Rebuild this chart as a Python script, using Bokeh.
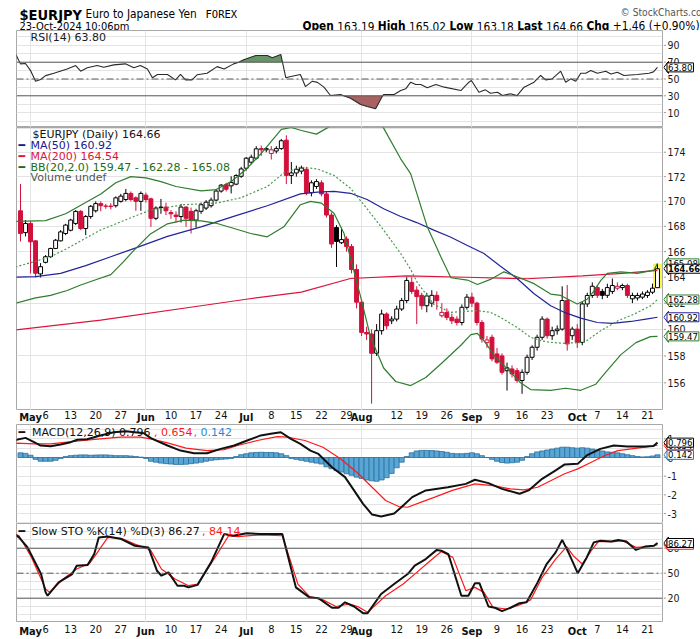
import numpy as np
from bokeh.plotting import figure
from bokeh.layouts import column, row
from bokeh.models import ColumnDataSource, Range1d, FixedTicker, Span, Label
from bokeh.embed import file_html
from bokeh.resources import INLINE
from bokeh.core.properties import value

# ---------------- data (trading-day index 0 = 29-Apr-2024 ... 127 = 23-Oct-2024) ----------------
week_ticks = [5, 10, 15, 20, 30, 35, 40, 50, 55, 60, 65, 75, 80, 85, 95, 100, 105, 115, 120, 125]
week_labels = ["6", "13", "20", "27", "10", "17", "24", "8", "15", "22", "29", "12", "19", "26",
               "9", "16", "23", "7", "14", "21"]
month_ticks = [2, 25, 45, 68, 90, 111]
month_labels = ["May", "Jun", "Jul", "Aug", "Sep", "Oct"]

open_ = [169.24, 167.50, 168.23, 166.85, 164.26, 165.16, 165.60, 166.25, 166.85, 167.43,
         167.69, 168.23, 169.19, 167.83, 168.78, 169.24, 169.82, 169.60, 169.62, 169.65,
         170.00, 170.15, 170.64, 170.28, 170.00, 170.50, 170.20, 168.64, 169.50, 169.54,
         169.10, 168.90, 168.78, 169.54, 169.20, 168.50, 169.20, 169.46, 169.65, 170.10,
         170.83, 171.35, 171.25, 171.39, 172.03, 172.69, 173.18, 173.51, 174.30, 174.20,
         173.90, 174.10, 174.30, 175.00, 172.10, 172.30, 172.45, 172.60, 170.70, 171.20,
         171.50, 170.60, 168.90, 167.90, 166.70, 167.00, 166.40, 164.60, 162.07, 159.77,
         159.65, 158.20, 159.90, 161.17, 160.65, 160.78, 161.55, 162.20, 163.60, 163.00,
         162.60, 161.80, 162.00, 162.60, 161.04, 161.29, 160.91, 160.78, 160.52, 161.68,
         162.46, 162.00, 160.52, 159.00, 159.40, 158.15, 158.00, 156.90, 157.03, 156.90,
         156.17, 156.78, 157.90, 158.65, 159.40, 160.78, 159.52, 159.90, 160.02, 162.20,
         159.52, 160.02, 159.02, 161.94, 162.59, 163.20, 162.90, 162.60, 162.90, 163.15,
         163.20, 163.36, 162.33, 162.40, 162.46, 162.59, 162.84, 163.19]
high = [171.40, 168.50, 168.40, 166.90, 165.10, 165.73, 166.30, 167.00, 167.70, 168.20,
        168.60, 169.30, 169.30, 168.90, 169.70, 170.00, 170.00, 169.80, 169.85, 170.40,
        170.60, 171.00, 170.80, 170.40, 170.80, 170.70, 170.30, 169.60, 170.20, 169.90,
        169.30, 169.20, 169.80, 169.60, 169.50, 169.40, 169.90, 170.10, 170.30, 171.00,
        171.40, 171.50, 172.03, 172.20, 172.80, 173.60, 173.80, 174.50, 174.55, 174.40,
        174.50, 174.50, 175.10, 175.40, 173.20, 172.90, 172.90, 172.80, 171.70, 171.80,
        171.70, 170.80, 169.10, 168.10, 167.90, 167.20, 166.60, 165.00, 162.30, 160.20,
        160.00, 160.40, 161.50, 161.30, 161.00, 161.80, 162.40, 164.00, 164.00, 163.30,
        162.80, 162.80, 163.00, 162.90, 162.00, 161.60, 161.20, 161.00, 161.90, 162.70,
        162.80, 162.10, 160.70, 159.50, 159.60, 158.60, 158.20, 157.50, 157.30, 157.10,
        157.00, 158.10, 158.80, 159.60, 161.00, 160.90, 160.20, 160.30, 163.30, 163.40,
        160.20, 160.40, 162.10, 162.80, 163.60, 163.40, 163.10, 163.50, 163.90, 163.60,
        163.50, 163.50, 162.80, 162.80, 162.90, 163.00, 163.50, 165.02]
low = [166.80, 167.20, 164.30, 163.98, 163.98, 165.08, 165.50, 166.20, 166.80, 167.30,
       167.60, 168.10, 167.70, 167.30, 168.60, 169.10, 169.20, 169.40, 169.35, 169.50,
       169.90, 170.00, 170.00, 169.24, 169.24, 169.90, 167.96, 168.50, 169.00, 168.90,
       168.60, 168.30, 168.30, 167.96, 167.43, 167.90, 169.00, 169.30, 169.50, 170.00,
       170.70, 170.80, 170.64, 171.30, 171.90, 172.50, 173.00, 173.40, 173.70, 174.00,
       173.40, 173.90, 174.20, 171.40, 171.40, 172.00, 172.20, 170.50, 170.40, 171.00,
       170.40, 168.70, 166.30, 164.80, 166.60, 166.00, 164.30, 161.60, 159.50, 159.20,
       154.47, 158.00, 159.60, 160.00, 160.40, 160.60, 161.40, 162.00, 162.70, 160.40,
       161.50, 161.30, 161.70, 161.50, 160.90, 160.70, 160.40, 160.30, 160.30, 161.50,
       161.70, 160.30, 159.00, 158.60, 157.60, 157.40, 156.60, 155.43, 156.40, 156.00,
       155.19, 156.60, 157.70, 158.40, 159.20, 159.30, 159.20, 159.60, 159.90, 158.40,
       159.20, 158.60, 158.80, 161.70, 162.40, 162.40, 162.30, 162.40, 162.70, 163.00,
       163.00, 162.40, 162.00, 162.20, 162.30, 162.40, 162.70, 163.18]
close_ = [167.43, 168.23, 166.77, 164.31, 164.82, 165.60, 166.25, 166.90, 167.56, 168.10,
          168.50, 169.19, 167.83, 168.78, 169.60, 169.82, 169.65, 169.62, 169.58, 170.28,
          170.42, 170.64, 170.15, 170.00, 170.64, 170.15, 168.64, 169.46, 169.54, 169.24,
          169.00, 168.78, 169.54, 168.64, 168.50, 169.24, 169.73, 169.93, 170.10, 170.83,
          171.31, 170.98, 171.53, 172.09, 172.63, 173.51, 173.59, 174.28, 174.20, 174.30,
          174.20, 174.30, 174.95, 172.10, 172.30, 172.60, 172.70, 170.70, 171.50, 171.60,
          170.60, 168.90, 166.60, 166.80, 166.95, 166.40, 164.60, 162.07, 159.77, 159.65,
          158.20, 159.90, 161.17, 160.27, 160.78, 161.55, 162.20, 163.75, 162.90, 162.50,
          161.80, 162.55, 162.60, 162.20, 161.29, 160.91, 160.65, 160.52, 161.68, 162.46,
          162.00, 160.52, 159.27, 159.20, 157.78, 157.53, 156.78, 157.11, 156.66, 156.17,
          156.78, 157.90, 158.65, 159.40, 160.78, 159.52, 159.90, 160.02, 162.20, 158.90,
          160.02, 159.02, 161.94, 162.59, 163.30, 162.60, 162.60, 163.20, 163.36, 163.30,
          163.36, 162.59, 162.59, 162.59, 162.70, 162.84, 163.15, 164.66]

ma50_x = [-1, 3, 8, 13, 18, 23, 29.3, 36, 42.5, 49.2, 55.8, 59.2, 62.5, 65.8, 69.1, 72.4, 75.7,
          79, 82.4, 85.7, 89, 92.4, 95.7, 99, 102.4, 105.7, 108.7, 111.7, 115, 118, 121.7, 125, 127]
ma50_y = [164.0, 164.05, 164.3, 164.9, 165.6, 166.3, 167.2, 167.96, 168.8, 169.65, 170.6, 170.75,
          170.8, 170.65, 170.15, 169.4, 168.8, 168.3, 167.7, 167.15, 166.5, 165.85, 164.85, 163.9,
          162.72, 161.8, 161.25, 160.85, 160.52, 160.45, 160.6, 160.8, 160.92]
ma200_x = [-1, 16, 36, 45, 56, 65.8, 77, 89, 101, 112, 120, 127]
ma200_y = [159.95, 160.7, 161.8, 162.3, 162.85, 163.9, 164.1, 164.0, 163.88, 164.1, 164.3, 164.54]
bb_up_x = [-1, 5, 9, 13, 16, 19, 22, 25, 28, 31, 36, 39, 42, 45, 48, 50, 52, 54, 56, 59, 61.5, 64,
           68, 71, 72.4, 75.8, 77.8, 81.1, 83.8, 85.8, 89.1, 91.1, 93.7, 96.4, 99, 102.4, 105.7,
           107.7, 111, 113, 114.4, 115.7, 117, 119.7, 123, 126.3, 127]
bb_up_y = [168.4, 168.45, 169.0, 169.9, 170.6, 171.5, 172.0, 171.9, 171.6, 171.2, 170.85, 170.95,
           171.6, 172.6, 173.9, 174.9, 175.9, 176.05, 175.8, 175.5, 176.1, 176.8, 177.3, 176.6,
           176.0, 173.46, 172.23, 167.96, 165.6, 163.96, 163.78, 163.44, 163.83, 164.42, 164.04,
           163.5, 162.7, 162.59, 161.94, 162.3, 162.97, 163.75, 164.3, 164.42, 164.3, 164.55, 165.08]
bb_mid_x = [-1, 2.6, 6, 9.3, 15.9, 22.6, 25.9, 32.6, 39.2, 43.9, 49.2, 52.5, 55.8, 59.2, 62.5, 65.8,
            69.1, 72.4, 75.8, 77.8, 79.1, 82.4, 85.8, 91.1, 93.7, 95.7, 99, 101.7, 103.7, 105.7,
            108.4, 112.4, 115.7, 119.1, 122.4, 125.7, 127]
bb_mid_y = [164.8, 165.2, 165.6, 166.25, 167.7, 168.78, 169.3, 169.73, 169.87, 170.28, 171.2,
            172.3, 172.77, 172.63, 172.1, 171.05, 169.4, 167.7, 165.85, 164.6, 163.6, 161.9, 161.3,
            161.42, 161.29, 160.91, 160.15, 159.4, 159.15, 159.02, 158.95, 159.02, 159.9, 160.65,
            161.17, 161.81, 162.28]
bb_lo_x = [-1, 3, 6, 9.3, 12, 15, 18, 20.5, 22.6, 25.9, 29.3, 32.6, 36, 39.2, 42.6, 45.9, 49.2,
           52.5, 55.8, 57.8, 60, 62.5, 64.5, 65.8, 67.8, 69.8, 72.4, 74.8, 77.8, 80.8, 83.8, 87.8,
           89.8, 91.1, 92.7, 94.7, 97.7, 99.7, 101.7, 105.7, 108.7, 111.7, 114.7, 116.7, 119.7,
           122.7, 125.6, 127]
bb_lo_y = [162.0, 162.4, 162.6, 162.97, 163.4, 163.8, 164.2, 165.2, 166.1, 167.4, 168.2, 168.5,
           168.44, 168.23, 167.83, 167.43, 167.17, 167.96, 169.73, 170.0, 169.85, 169.05, 167.43,
           165.5, 162.5, 159.4, 157.1, 156.1, 155.8, 156.4, 157.4, 158.8, 159.6, 159.7, 159.0,
           157.9, 156.8, 156.0, 155.5, 155.45, 155.6, 155.45, 155.9, 156.8, 158.1, 159.0, 159.45,
           159.47]
price_ticks = [156, 158, 160, 162, 164, 166, 168, 170, 172, 174]

rsi_x = [-1, -0.66, 0, 1, 2, 3, 4, 5, 6.65, 9.3, 11, 12, 13.3, 15.3, 16.6, 18.6, 20.9, 22.6, 23.9,
         25.3, 26.3, 27.3, 29.3, 30.9, 31.9, 32.9, 34.2, 35.2, 37.2, 39.2, 40.6, 42.5, 43.5, 44.5,
         46.9, 49.2, 50.2, 51.9, 52.23, 52.9, 53.9, 55.8, 56.8, 58.2, 59.2, 60.5, 61.8, 63.8, 64.4,
         65.8, 67.8, 69.1, 70.8, 72.2, 72.4, 74.5, 75.8, 76.8, 77.8, 78.8, 79.8, 81.1, 82.8, 84.5,
         87.8, 89.4, 89.9, 91.4, 92.7, 93.7, 95.1, 96.1, 97.7, 99, 100.4, 102.4, 103.7, 104.7, 106,
         107.7, 108.7, 109.7, 110.7, 111.7, 112.7, 113.7, 115, 116.7, 117.7, 119, 120.3, 123,
         125.3, 126.2, 127]
rsi_y = [80, 76, 68, 68.4, 60, 47.4, 49.4, 54, 56.8, 62, 66, 59.3, 63.3, 66, 64, 66.8, 68, 63.3,
         66, 62, 51.4, 55.4, 55.4, 49, 55.4, 49, 49, 55, 56.8, 64.7, 62, 68, 70, 72.8, 78, 78,
         75.4, 79.2, 70, 51.4, 53, 55.4, 41, 47.4, 46, 40.3, 30.4, 31.5, 30, 27, 19.6, 17.3, 14.5,
         30, 31.5, 31.5, 36.3, 38.3, 46.2, 43.4, 43.4, 39.5, 43.4, 40.3, 36.3, 46.2, 48.2, 34.3,
         37.1, 33.1, 34.3, 30.4, 32.4, 30.2, 40.3, 46.2, 54.2, 49, 50.2, 59.3, 46.2, 50.2, 47.4,
         56.8, 56.8, 60.1, 56.8, 59.3, 56, 58, 54.2, 55.4, 56.8, 58.5, 63.8]
rsi_ticks = [10, 30, 50, 70, 90]

macd_x = [-1, -0.8, 1, 2.7, 4, 6, 8, 10, 11.3, 13.3, 15.9, 18.6, 21, 24.6, 25.9, 27.5, 29.3, 31.9,
          34.6, 37.2, 39.9, 42.6, 45.2, 47.9, 49.9, 51.9, 53.9, 55.8, 57.8, 59.4, 62.1, 64.7, 66.5,
          68.3, 70.1, 71.9, 74.5, 76.3, 78.1, 80.8, 85.2, 88.8, 90.6, 93.3, 96, 99.5, 101.3, 104,
          106.7, 108.5, 111.1, 112.9, 115.6, 118.3, 121, 124.5, 126.2, 127]
macd_y = [0.9, 0.95, 1.05, 0.82, 0.64, 0.6, 0.7, 0.82, 0.95, 0.98, 1.18, 1.35, 1.4, 1.3, 1.05,
          0.85, 0.64, 0.37, 0.23, 0.23, 0.46, 0.64, 0.91, 1.18, 1.27, 1.35, 1.0, 0.73, 0.37, 0.19,
          -0.52, -1.05, -1.76, -2.48, -3.05, -3.16, -3.0, -2.57, -2.12, -1.76, -1.59, -1.41, -1.19,
          -1.37, -1.68, -1.94, -1.76, -1.14, -0.69, -0.37, -0.34, 0.11, 0.46, 0.64, 0.59, 0.59,
          0.62, 0.796]
signal_x = [-1, -0.8, 2.7, 6, 9.3, 12.6, 15.9, 19.9, 23.9, 25.9, 29.3, 33, 37.2, 40.6, 43.3, 47.2,
            51.2, 53.2, 56.7, 60.3, 63.8, 67.4, 70.1, 72.8, 75.4, 77.2, 79.9, 82.6, 86.1, 90.6,
            94.2, 97.7, 100.4, 103.1, 105.8, 108.5, 111.1, 113.8, 116.5, 119.1, 121.8, 124.5, 127]
signal_y = [0.75, 0.77, 0.73, 0.73, 0.82, 0.91, 1.0, 1.09, 1.09, 1.0, 0.78, 0.5, 0.37, 0.42, 0.64,
            0.91, 1.12, 1.09, 0.91, 0.55, -0.07, -0.87, -1.59, -2.3, -2.62, -2.66, -2.39, -2.12,
            -1.76, -1.41, -1.5, -1.68, -1.73, -1.59, -1.23, -0.87, -0.61, -0.25, 0.11, 0.37, 0.46,
            0.55, 0.654]
hist = [0.25, 0.22, 0.12, -0.1, -0.2, -0.2, -0.2, -0.15, -0.05, 0.05,
        0.1, 0.12, 0.14, 0.14, 0.12, 0.13, 0.14, 0.14, 0.12, 0.1,
        0.1, 0.1, 0.08, 0.05, 0.02, -0.05, -0.2, -0.25, -0.3, -0.33,
        -0.35, -0.37, -0.37, -0.36, -0.33, -0.3, -0.25, -0.2, -0.15, -0.12,
        -0.1, -0.08, -0.05, 0.05, 0.15, 0.2, 0.25, 0.27, 0.28, 0.27,
        0.27, 0.25, 0.2, 0.1, -0.05, -0.1, -0.15, -0.2, -0.25, -0.3,
        -0.35, -0.5, -0.6, -0.7, -0.78, -0.87, -0.95, -1.05, -1.12, -1.2,
        -1.25, -1.27, -1.2, -1.08, -0.85, -0.55, -0.25, 0.05, 0.25, 0.35,
        0.38, 0.38, 0.37, 0.35, 0.32, 0.28, 0.22, 0.2, 0.2, 0.22,
        0.25, 0.2, 0.1, 0.0, -0.1, -0.2, -0.27, -0.3, -0.28, -0.25,
        -0.15, 0.05, 0.2, 0.3, 0.35, 0.4, 0.45, 0.5, 0.55, 0.55,
        0.52, 0.5, 0.52, 0.5, 0.45, 0.4, 0.35, 0.3, 0.28, 0.25,
        0.2, 0.15, 0.1, 0.05, 0.03, 0.04, 0.08, 0.142]
macd_ticks = [-3, -2, -1, 0, 1]

sto_k_x = [-1, -0.3, 1.4, 4.1, 5, 5.4, 7.6, 10.3, 11.2, 13.4, 14.7, 15.6, 17.4, 18.5, 20.1, 22.8,
           25.5, 27.2, 28.1, 29.5, 31.3, 32.6, 33.5, 35.3, 38, 40.6, 42.4, 45.1, 47.8, 52.2, 54.9,
           57.6, 59.4, 62.1, 63.4, 64.7, 66.5, 68.3, 69.2, 71.9, 74.5, 77.2, 78.6, 80.8, 83, 83.9,
           85.3, 87.9, 89.3, 90.6, 91.5, 93.3, 94.6, 96, 97.7, 99.5, 100.9, 103.1, 104.9, 106.7,
           108, 109.4, 111.1, 112.9, 114.3, 115.6, 117.8, 119.2, 120.8, 122.7, 124.5, 126.3, 127]
sto_k_y = [96, 93, 81, 49, 27, 23, 39, 49, 59, 60, 73, 93, 94, 93, 91, 83, 81, 53, 47, 51, 35, 35,
           33, 36, 63, 97, 95, 98, 97, 97, 33, 21, 20, 8.5, 8.5, 15, 10, 2, 2, 25, 37, 49, 59, 67,
           78, 77, 73, 23, 23, 38, 38, 10, 8.5, 4.5, 8.5, 14, 15, 39, 61, 75, 90, 73, 50, 69, 87,
           89, 88, 90, 88, 78, 82, 83, 86.27]
sto_d_x = [-1, -0.3, 2.2, 5, 5.8, 8.5, 11.2, 13.8, 15.1, 17.4, 20.1, 22.8, 25.9, 28.1, 30.8, 33.5,
           35.3, 38.8, 41.5, 43.3, 47.8, 52.2, 55.3, 57.6, 60.3, 62.9, 65.6, 67.4, 69.2, 72.8, 76.3,
           79, 81.7, 83.9, 86.2, 88.8, 90.6, 92.4, 94.2, 96.9, 99.5, 101.7, 104, 106.7, 108.9,
           110.2, 112, 113.8, 115.2, 118.3, 120, 122.7, 125.4, 127]
sto_d_y = [97, 95, 69, 31, 27, 43, 55, 62, 73, 93, 92, 85, 78, 55, 43, 35, 37, 69, 95, 94, 96, 95,
           37, 22, 18, 10, 13, 9.5, 3, 23, 37, 51, 65, 76, 69, 29, 33, 27, 9, 7, 12, 18, 45, 67,
           82, 71, 61, 77, 88, 88, 89, 81, 82, 84.14]
sto_ticks = [20, 50, 80]

# ---------------- styling / layout constants ----------------
X0, X1 = -0.8, 128.0
FW = 646
SW = 37
RED = "#d3103c"
NAVY = "#23239a"
CRIMSON = "#dc143c"
GREEN = "#2e7d2e"
GRID = "#e3e3e3"
OUTLINE = "#a8a8a8"
AXF = "DejaVu Sans Condensed"
LGF = "DejaVu Sans"
MONO = "DejaVu Sans Mono"

RSI_LO, RSI_HI, RSI_H = -7.7, 107.7, 97
MAIN_LO, MAIN_HI, MAIN_H = 153.97, 176.05, 283
MACD_LO, MACD_HI, MACD_H = -3.53, 1.765, 99
STO_LO, STO_HI, STO_H = -9.2, 109.7, 99

xr = Range1d(X0, X1)


def sx(px):
    return X0 + (px - 16) * (X1 - X0) / FW


def lin_y(py, lo, hi, h):
    return hi - py * (hi - lo) / h


def log_y(py, lo, hi, h):
    return hi * (lo / hi) ** (py / h)


def base_fig(**kw):
    return figure(toolbar_location=None, output_backend="svg", title=None,
                  background_fill_color="white", border_fill_color="white", **kw)


def make_panel(fh, yr, log=False):
    p = base_fig(frame_width=FW, frame_height=fh, x_range=xr, y_range=yr,
                 y_axis_type="log" if log else "linear", y_axis_location=None,
                 x_axis_location=None, min_border_left=16, min_border_right=1,
                 min_border_top=0, min_border_bottom=0, outline_line_color=OUTLINE)
    p.xgrid.ticker = FixedTicker(ticks=month_ticks)
    p.xgrid.grid_line_color = GRID
    p.ygrid.grid_line_color = GRID
    return p


def make_side(fh, yr, ticks, log=False):
    s = base_fig(frame_width=SW, frame_height=fh, x_range=Range1d(0, SW), y_range=yr,
                 y_axis_type="log" if log else "linear", y_axis_location=None,
                 x_axis_location=None, min_border=0, outline_line_color=None)
    s.grid.visible = False
    s.segment(x0=0, y0=ticks, x1=2.5, y1=ticks, line_color="#9a9a9a", line_width=1)
    s.text(x=4, y=ticks, text=[str(t) for t in ticks], text_font=value(AXF),
           text_font_size=value("10.5px"), text_color="#1a1a1a", text_align="left",
           text_baseline="middle")
    return s


def side_tag(s, v, txt, color, d_lo, d_hi, bold=False):
    s.patch(x=[0.3, 5, 5], y=[v, d_hi, d_lo], fill_color="white", line_color=color, line_width=1)
    s.add_layout(Label(x=3.5, y=v, text=txt, text_align="left", text_baseline="middle",
                       text_font=AXF, text_font_size="9.2px" if bold else "9.5px",
                       text_font_style="bold" if bold else "normal", text_color="black",
                       background_fill_color="white", border_line_color=color,
                       border_line_width=1, padding=1))


def lin_tag(s, v, txt, color, lo, hi, h, bold=False):
    d = 6.0 * (hi - lo) / h
    side_tag(s, v, txt, color, v - d, v + d, bold)


def log_tag(s, v, txt, color, lo, hi, h, bold=False):
    k = np.log(hi / lo) / h * 6.0
    side_tag(s, v, txt, color, v * np.exp(-k), v * np.exp(k), bold)


def leg(p, px, yv, txt, color):
    p.add_layout(Label(x=sx(px), y=yv, text=txt, text_align="left", text_baseline="middle",
                       text_font=LGF, text_font_size="11px", text_color=color))


def make_dates(fh, ytop):
    d = base_fig(frame_width=FW, frame_height=fh, x_range=xr, y_range=Range1d(fh, 0),
                 x_axis_location=None, y_axis_location=None, min_border_left=16,
                 min_border_right=38, min_border_top=0, min_border_bottom=0,
                 outline_line_color=None)
    d.grid.visible = False
    d.text(x=week_ticks, y=ytop, text=week_labels, text_font=value(AXF),
           text_font_size=value("11px"), text_color="#111111", text_align="center",
           text_baseline="top")
    d.text(x=month_ticks, y=ytop, text=month_labels, text_font=value(AXF),
           text_font_size=value("11px"), text_font_style="bold", text_color="#111111",
           text_align="center", text_baseline="top")
    return d


# ---------------- header ----------------
hdr = base_fig(frame_width=700, frame_height=30, x_range=Range1d(0, 700), y_range=Range1d(30, 0),
               x_axis_location=None, y_axis_location=None, min_border=0, outline_line_color=None)
hdr.grid.visible = False


def htext(x, y, s, size, style="normal", color="#000000", align="left", font=AXF):
    hdr.text(x=[x], y=[y], text=[s], text_font=value(font), text_font_size=value(size),
             text_font_style=style, text_color=color, text_align=align,
             text_baseline="alphabetic")


htext(3, 14.5, "$EURJPY", "14.5px", "bold")
htext(69, 13.5, "Euro to Japanese Yen", "11.8px")
htext(189, 13.5, "FOREX", "10.5px", font=MONO)
htext(694, 12, "\u00a9 StockCharts.com", "10.2px", color="#555555", align="right")
htext(3, 25.5, "23-Oct-2024 10:06pm", "11px")
for xx, s, st in [(286, "Open", "bold"), (320.8, "163.19", "normal"), (361.3, "High", "bold"),
                  (392.4, "165.02", "normal"), (432.9, "Low", "bold"), (460.2, "163.18", "normal"),
                  (500.7, "Last", "bold"), (529.4, "164.66", "normal"), (569.9, "Chg", "bold"),
                  (596.3, "+1.46 (+0.90%)", "normal")]:
    htext(xx, 25.5, s, "11.8px", st)
htext(687, 25, "\u25b2", "7.5px", color="#1a9a1a", font=LGF)

# ---------------- RSI ----------------
yr_rsi = Range1d(RSI_LO, RSI_HI)
p_rsi = make_panel(RSI_H, yr_rsi)
p_rsi.ygrid.ticker = FixedTicker(ticks=[0, 10, 20, 30, 40, 50, 60, 70, 80, 90, 100])
rx = np.array(rsi_x)
ry = np.array(rsi_y)
m_hi = (rx >= 43.5) & (rx <= 52.23)
m_lo = (rx >= 64.4) & (rx <= 72.2)
p_rsi.varea(x=rx[m_hi], y1=70, y2=ry[m_hi], fill_color="#5f8f5f", fill_alpha=0.95)
p_rsi.varea(x=rx[m_lo], y1=30, y2=ry[m_lo], fill_color="#a35a5a", fill_alpha=0.95)
for lv, dash in [(70, "solid"), (30, "solid"), (50, "7 3 2 3")]:
    p_rsi.add_layout(Span(location=lv, dimension="width", line_color="#5a5a5a", line_width=1,
                          line_dash=dash))
p_rsi.line(rsi_x, rsi_y, line_color="#2a2a2a", line_width=1.1)
leg(p_rsi, 30, lin_y(6.5, RSI_LO, RSI_HI, RSI_H), "RSI(14) 63.80", "#1a1a1a")
s_rsi = make_side(RSI_H, yr_rsi, rsi_ticks)
lin_tag(s_rsi, rsi_y[-1], "63.80", "black", RSI_LO, RSI_HI, RSI_H)

# ---------------- main price panel ----------------
yr_main = Range1d(MAIN_LO, MAIN_HI)
p_main = make_panel(MAIN_H, yr_main, log=True)
p_main.ygrid.ticker = FixedTicker(ticks=price_ticks + [176])

o = np.array(open_)
c = np.array(close_)
hi_ = np.array(high)
lo_ = np.array(low)
idx = np.arange(len(c))
prev = np.concatenate([[o[0]], c[:-1]])
line_col = np.where(c >= prev, "black", RED)
fill_col = np.where(c >= o, "white", line_col)
src = ColumnDataSource(dict(x=idx, top=np.maximum(o, c), bottom=np.minimum(o, c),
                            high=hi_, low=lo_, lc=line_col, fc=fill_col))
p_main.quad(left=[idx[-1] - 0.75], right=[idx[-1] + 0.75], bottom=[lo_[-1]], top=[hi_[-1]],
            fill_color="#ffff55", line_color="#e0d000", line_width=0.5)
p_main.segment(x0="x", y0="low", x1="x", y1="high", line_color="lc", line_width=1, source=src)
p_main.vbar(x="x", top="top", bottom="bottom", width=0.78, fill_color="fc", line_color="lc",
            line_width=1, source=src)
p_main.line(ma200_x, ma200_y, line_color=CRIMSON, line_width=1.2)
p_main.line(ma50_x, ma50_y, line_color=NAVY, line_width=1.2)
p_main.line(bb_up_x, bb_up_y, line_color=GREEN, line_width=1.2)
p_main.line(bb_lo_x, bb_lo_y, line_color=GREEN, line_width=1.2)
p_main.line(bb_mid_x, bb_mid_y, line_color="#4a9a4a", line_width=1.2, line_dash="2 2")

for py, txt, col in [(7.3, "$EURJPY (Daily) 164.66", "#111111"),
                     (18, "MA(50) 160.92", "#1a1a8c"),
                     (29, "MA(200) 164.54", CRIMSON),
                     (40.3, "BB(20,2.0) 159.47 - 162.28 - 165.08", "#1e6b1e"),
                     (50.3, "Volume undef", "#555555")]:
    leg(p_main, 30 if txt[0] != "$" else 32, log_y(py, MAIN_LO, MAIN_HI, MAIN_H), txt, col)
for py, col in [(18, "#1a1a8c"), (29, CRIMSON), (40.3, "#1e6b1e")]:
    leg(p_main, 18, log_y(py, MAIN_LO, MAIN_HI, MAIN_H), "\u2501", col)

s_main = make_side(MAIN_H, yr_main, price_ticks, log=True)
log_tag(s_main, bb_lo_y[-1], "159.47", GREEN, MAIN_LO, MAIN_HI, MAIN_H)
log_tag(s_main, ma50_y[-1], "160.92", NAVY, MAIN_LO, MAIN_HI, MAIN_H)
log_tag(s_main, bb_mid_y[-1], "162.28", GREEN, MAIN_LO, MAIN_HI, MAIN_H)
log_tag(s_main, bb_up_y[-1], "165.08", GREEN, MAIN_LO, MAIN_HI, MAIN_H)
log_tag(s_main, close_[-1], "164.66", "black", MAIN_LO, MAIN_HI, MAIN_H, bold=True)

dates1 = make_dates(14, 0.5)

# ---------------- MACD ----------------
yr_macd = Range1d(MACD_LO, MACD_HI)
p_macd = make_panel(MACD_H, yr_macd)
p_macd.ygrid.ticker = FixedTicker(ticks=[-3.5, -3, -2.5, -2, -1.5, -1, -0.5, 0, 0.5, 1, 1.5])
p_macd.vbar(x=idx, top=hist, bottom=0, width=1.0, fill_color="#58a6d6", line_color="#2c6f9b",
            line_width=0.8)
p_macd.line(signal_x, signal_y, line_color="#ff1a1a", line_width=1.2)
p_macd.line(macd_x, macd_y, line_color="#111111", line_width=2)
my = lin_y(8, MACD_LO, MACD_HI, MACD_H)
leg(p_macd, 18, my, "\u2501", "#111111")
leg(p_macd, 31.5, my, "MACD(12,26,9) 0.796", "#111111")
leg(p_macd, 153.5, my, ", 0.654", "#ff1a1a")
leg(p_macd, 193, my, ", 0.142", "#2a8ad0")
s_macd = make_side(MACD_H, yr_macd, macd_ticks)
lin_tag(s_macd, hist[-1], "0.142", "#2a6fb0", MACD_LO, MACD_HI, MACD_H)
lin_tag(s_macd, signal_y[-1], "0.654", "#ff1a1a", MACD_LO, MACD_HI, MACD_H)
lin_tag(s_macd, macd_y[-1], "0.796", "black", MACD_LO, MACD_HI, MACD_H)

# ---------------- Slow stochastic ----------------
yr_sto = Range1d(STO_LO, STO_HI)
p_sto = make_panel(STO_H, yr_sto)
p_sto.ygrid.ticker = FixedTicker(ticks=[0, 10, 20, 30, 40, 50, 60, 70, 80, 90, 100])
for lv, dash in [(80, "solid"), (20, "solid"), (50, "7 3 2 3")]:
    p_sto.add_layout(Span(location=lv, dimension="width", line_color="#5a5a5a", line_width=1,
                          line_dash=dash))
p_sto.line(sto_d_x, sto_d_y, line_color="#ff1a1a", line_width=1.2)
p_sto.line(sto_k_x, sto_k_y, line_color="#111111", line_width=2)
sy = lin_y(8, STO_LO, STO_HI, STO_H)
leg(p_sto, 18, sy, "\u2501", "#111111")
leg(p_sto, 31, sy, "Slow STO %K(14) %D(3) 86.27", "#111111")
leg(p_sto, 201.5, sy, ", 84.14", "#ff1a1a")
s_sto = make_side(STO_H, yr_sto, sto_ticks)
lin_tag(s_sto, sto_d_y[-1], "84.14", "#ff1a1a", STO_LO, STO_HI, STO_H)
lin_tag(s_sto, sto_k_y[-1], "86.27", "black", STO_LO, STO_HI, STO_H)

dates2 = make_dates(17, 2.5)

layout = column(hdr,
                row(p_rsi, s_rsi, spacing=0),
                row(p_main, s_main, spacing=0),
                dates1,
                row(p_macd, s_macd, spacing=0),
                row(p_sto, s_sto, spacing=0),
                dates2,
                spacing=0)
open("out.html", "w").write(file_html(layout, INLINE, title="EURJPY"))
